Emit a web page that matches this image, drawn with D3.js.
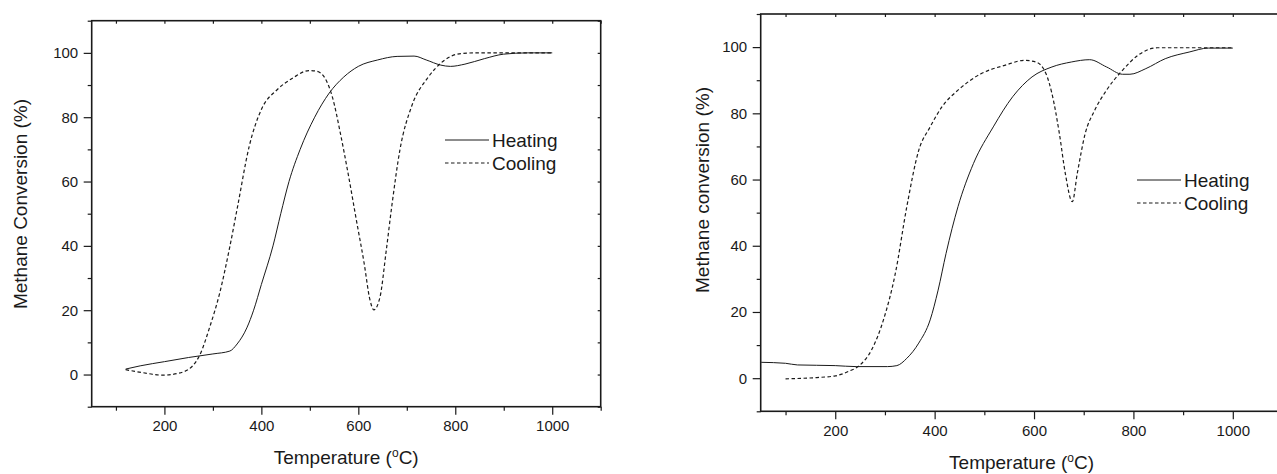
<!DOCTYPE html>
<html>
<head>
<meta charset="utf-8">
<script src="https://cdn.jsdelivr.net/npm/d3@7"></script>
<style>
    body { margin: 0; background: #fff; }
    svg { display: block; font-family: "Liberation Sans", Arial, sans-serif; }
</style>
</head>
<body>
<svg id="chart" width="1277" height="474"></svg>
<script>
// Left panel: [temperature °C, methane conversion %]
const heatingA = [[120,1.7],[150,2.7],[200,4.0],[250,5.3],[300,6.4],[335,7.3],[350,9.5],[370,14.5],[384,20],
    [400,28],[424,40],[440,50],[457,60],[480,70],[510,80],[540,87.5],[570,92.5],[600,95.8],[640,97.8],
    [680,98.9],[715,99],[740,97.8],[770,96.2],[790,95.8],[820,96.5],[860,98.2],[900,99.6],[950,100],[1000,100]];
const coolingA = [[120,1.5],[155,0.6],[196,-0.2],[229,0.4],[257,2.5],[273,6.1],[294,15],[314,25.3],[335,39.8],
    [351,52.3],[375,71],[400,82.4],[433,88.6],[465,92.2],[498,94.5],[514,94.3],[531,92.2],[547,86],[563,75],
    [580,61.6],[596,48],[612,34.6],[624,23.2],[632,20.1],[645,24.3],[657,37.8],[669,52.3],[686,70],[710,83.4],
    [743,92.2],[775,97.4],[808,99.7],[841,100],[1000,100]];

// Right panel
const heatingB = [[51,4.8],[100,4.5],[124,4.0],[200,3.8],[242,3.5],[305,3.5],[324,3.8],[344,6],[368,10.6],
    [391,17.6],[407,26.6],[423,37.7],[447,51.8],[478,64.8],[518,75.9],[557,85],[596,91],[636,94],[675,95.5],
    [712,96.2],[746,94],[778,91.8],[793,91.8],[825,93.5],[864,96.5],[912,98.5],[951,99.7],[1000,99.7]];
const coolingB = [[100,-0.2],[163,0.2],[200,0.7],[226,2.0],[250,4.0],[273,8.5],[297,17.6],[321,31.7],[344,51.8],
    [368,68.8],[391,75.9],[415,82],[447,87],[494,92],[541,94.5],[581,96],[604,95.5],[624,92],[636,86],
    [651,73.9],[663,61.8],[677,53.3],[687,61.8],[703,73.9],[722,80.9],[746,87],[778,93],[809,97.5],
    [848,99.8],[1000,99.8]];

const xMajor = [200, 400, 600, 800, 1000];
const xMinor = [100, 300, 500, 700, 900, 1100];
const yMajor = [0, 20, 40, 60, 80, 100];
const yMinor = [-10, 10, 30, 50, 70, 90, 110];
const seriesNames = ["Heating", "Cooling"];

const svg = d3.select("#chart");
const ink = "#1a1a1a";

function drawPanel(p) {
    const x = d3.scaleLinear().domain([50, 1100]).range([p.left, p.right]);
    const y = d3.scaleLinear().domain([-10, 110]).range([p.bottom, p.top]);
    const g = svg.append("g");

    // minor ticks (no labels)
    const minor = (axis) => axis.tickSize(4).tickFormat("");
    g.append("g").attr("transform", `translate(0,${p.bottom})`)
        .call(minor(d3.axisBottom(x).tickValues(xMinor)));
    g.append("g").attr("transform", `translate(${p.left},0)`)
        .call(minor(d3.axisLeft(y).tickValues(yMinor)));

    // major ticks with labels
    g.append("g").attr("class", "ax").attr("transform", `translate(0,${p.bottom})`)
        .call(d3.axisBottom(x).tickValues(xMajor).tickSize(8).tickPadding(6).tickFormat(d3.format("d")));
    g.append("g").attr("class", "ax").attr("transform", `translate(${p.left},0)`)
        .call(d3.axisLeft(y).tickValues(yMajor).tickSize(8).tickPadding(5.5).tickFormat(d3.format("d")));

    // small inward ticks on top and right
    g.append("g").attr("transform", `translate(0,${p.top})`)
        .call(d3.axisTop(x).tickValues(xMajor.concat(xMinor)).tickSize(-3).tickFormat(""));
    g.append("g").attr("transform", `translate(${p.right},0)`)
        .call(d3.axisRight(y).tickValues(yMajor.concat(yMinor)).tickSize(-3).tickFormat(""));

    g.selectAll(".domain").remove();
    g.selectAll(".tick line").attr("stroke", ink).attr("stroke-width", 1.2);
    g.selectAll(".ax text").attr("font-size", 15).attr("fill", ink)
        .attr("font-family", "Liberation Sans, Arial, sans-serif");

    // frame
    g.append("rect")
        .attr("x", p.left).attr("y", p.top)
        .attr("width", p.right - p.left).attr("height", p.bottom - p.top)
        .attr("fill", "none").attr("stroke", ink).attr("stroke-width", 1.6);

    // curves
    const line = d3.line().x(d => x(d[0])).y(d => y(d[1])).curve(d3.curveMonotoneX);
    g.append("path").datum(p.heating).attr("d", line)
        .attr("fill", "none").attr("stroke", ink).attr("stroke-width", 1);
    g.append("path").datum(p.cooling).attr("d", line)
        .attr("fill", "none").attr("stroke", ink).attr("stroke-width", 1.2)
        .attr("stroke-dasharray", "3.5,2.5");

    // legend
    seriesNames.forEach((name, i) => {
        const ly = p.legendY + i * 23;
        g.append("line")
            .attr("x1", p.legendX).attr("x2", p.legendX + 44)
            .attr("y1", ly).attr("y2", ly)
            .attr("stroke", ink).attr("stroke-width", i ? 1.2 : 1)
            .attr("stroke-dasharray", i ? "3.5,2.5" : null);
        g.append("text")
            .attr("x", p.legendX + 47).attr("y", ly).attr("dy", "0.35em")
            .attr("font-size", 19).attr("fill", ink)
            .text(name);
    });

    // axis titles
    const xt = g.append("text")
        .attr("x", (p.left + p.right) / 2).attr("y", p.xTitleY)
        .attr("text-anchor", "middle").attr("font-size", 19).attr("fill", ink);
    xt.append("tspan").text("Temperature (");
    xt.append("tspan").attr("dy", -7).attr("font-size", 12).text("o");
    xt.append("tspan").attr("dy", 7).text("C)");

    g.append("text")
        .attr("transform", `translate(${p.yTitleX},${p.yTitleY}) rotate(-90)`)
        .attr("text-anchor", "middle").attr("dy", "0.35em")
        .attr("font-size", 19).attr("fill", ink)
        .text(p.yTitle);
}

drawPanel({
    left: 91.7, right: 600.7, top: 20.7, bottom: 406.7,
    heating: heatingA, cooling: coolingA,
    legendX: 445, legendY: 140,
    xTitleY: 464, yTitleX: 20, yTitleY: 204,
    yTitle: "Methane Conversion (%)"
});

drawPanel({
    left: 760.7, right: 1282.5, top: 14, bottom: 411.3,
    heating: heatingB, cooling: coolingB,
    legendX: 1137, legendY: 180,
    xTitleY: 469, yTitleX: 702, yTitleY: 190,
    yTitle: "Methane conversion (%)"
});
</script>
</body>
</html>
